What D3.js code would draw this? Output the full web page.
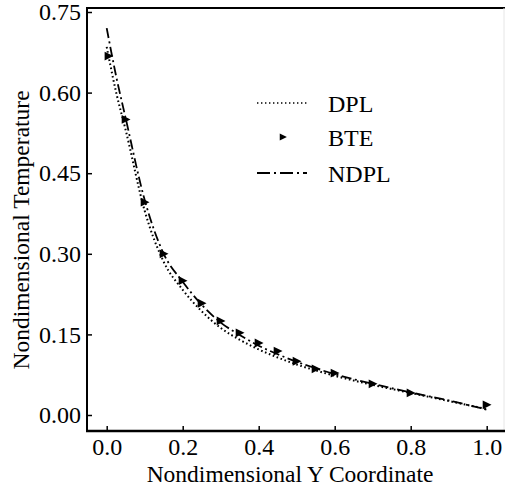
<!DOCTYPE html>
<html>
<head>
<meta charset="utf-8">
<script src="https://cdn.jsdelivr.net/npm/d3@7/dist/d3.min.js"></script>
<style>
html,body{margin:0;padding:0;background:#fff;}
svg{display:block;}
text{font-family:"Liberation Serif","DejaVu Serif",serif;fill:#000;}
</style>
</head>
<body>
<svg id="chart" width="505" height="490"></svg>
<script>
// Data
const xTicks = [0.0, 0.2, 0.4, 0.6, 0.8, 1.0];
const yTicks = [0.00, 0.15, 0.30, 0.45, 0.60, 0.75];

const lineX  = [0, 0.025, 0.05, 0.1, 0.15, 0.2, 0.25, 0.3, 0.35, 0.4, 0.45, 0.5, 0.55, 0.6, 0.7, 0.8, 0.9, 1.0];
const dplY   = [0.685, 0.60, 0.530, 0.380, 0.285, 0.233, 0.193, 0.162, 0.140, 0.122, 0.107, 0.094, 0.083, 0.073, 0.056, 0.041, 0.026, 0.011];
const ndplY  = [0.720, 0.630, 0.552, 0.400, 0.300, 0.248, 0.205, 0.172, 0.149, 0.129, 0.113, 0.099, 0.087, 0.076, 0.058, 0.042, 0.027, 0.010];

const bteX = [0.005, 0.05, 0.1, 0.15, 0.2, 0.25, 0.3, 0.35, 0.4, 0.45, 0.5, 0.55, 0.6, 0.7, 0.8, 1.0];
const bteY = [0.668, 0.550, 0.396, 0.300, 0.250, 0.208, 0.175, 0.153, 0.134, 0.119, 0.100, 0.086, 0.078, 0.058, 0.041, 0.019];

const legendItems = ["DPL", "BTE", "NDPL"];

const svg = d3.select("#chart");
const pLeft = 87, pRight = 505, pTop = 8, pBottom = 431;

const x = d3.scaleLinear().domain([0, 1]).range([106.7, 486.7]);
const y = d3.scaleLinear().domain([0, 0.75]).range([415, 12]);

// Frame
svg.append("line").attr("x1", pLeft).attr("x2", pRight).attr("y1", pTop).attr("y2", pTop)
  .attr("stroke", "#000").attr("stroke-width", 2);
svg.append("line").attr("x1", 504).attr("x2", 504).attr("y1", pTop).attr("y2", pBottom)
  .attr("stroke", "#e6e6e6").attr("stroke-width", 1);

// Axes
const xAxis = d3.axisBottom(x).tickValues(xTicks).tickSizeInner(-5).tickSizeOuter(0)
  .tickPadding(7).tickFormat(d3.format(".1f"));
const gx = svg.append("g").attr("transform", `translate(0,${pBottom})`).call(xAxis);
gx.select(".domain").remove();
gx.append("line").attr("x1", pLeft - 1).attr("x2", pRight).attr("y1", 0).attr("y2", 0)
  .attr("stroke", "#000").attr("stroke-width", 2.5);
gx.selectAll(".tick line").attr("stroke-width", 1.5);
gx.selectAll(".tick text").attr("font-size", 24).attr("font-family", "Liberation Serif").attr("dy", "0.71em");

const yAxis = d3.axisLeft(y).tickValues(yTicks).tickSizeInner(-5).tickSizeOuter(0)
  .tickPadding(6).tickFormat(d3.format(".2f"));
const gy = svg.append("g").attr("transform", `translate(${pLeft},0)`).call(yAxis);
gy.select(".domain").remove();
gy.append("line").attr("x1", 0).attr("x2", 0).attr("y1", pTop - 1).attr("y2", pBottom)
  .attr("stroke", "#000").attr("stroke-width", 2);
gy.selectAll(".tick line").attr("stroke-width", 1.5);
gy.selectAll(".tick text").attr("font-size", 24).attr("font-family", "Liberation Serif");

// Axis titles
svg.append("text").attr("x", 290).attr("y", 482).attr("text-anchor", "middle")
  .attr("font-size", 23.5).text("Nondimensional Y Coordinate");
svg.append("text").attr("transform", "translate(29,230) rotate(-90)").attr("text-anchor", "middle")
  .attr("font-size", 23.5).text("Nondimensional Temperature");

// Lines
const line = d3.line().curve(d3.curveMonotoneX);
const dplPts = lineX.map((v, i) => [x(v), y(dplY[i])]);
const ndplPts = lineX.map((v, i) => [x(v), y(ndplY[i])]);

svg.append("path").attr("d", line(dplPts)).attr("fill", "none").attr("stroke", "#000")
  .attr("stroke-width", 2).attr("stroke-dasharray", "1.6,2.6");
svg.append("path").attr("d", line(ndplPts)).attr("fill", "none").attr("stroke", "#000")
  .attr("stroke-width", 1.8).attr("stroke-dasharray", "10,3.5,2,3.5");

// BTE markers (right-pointing triangles)
const tri = (cx, cy, s) => `M${cx - s * 0.5},${cy - s * 0.55}L${cx + s * 0.6},${cy}L${cx - s * 0.5},${cy + s * 0.55}Z`;
svg.append("g").selectAll("path").data(bteX).join("path")
  .attr("d", (d, i) => tri(x(d), y(bteY[i]), 8)).attr("fill", "#000");

// Legend
const lg = svg.append("g");
const lx1 = 257, lx2 = 307, ly = [103, 137, 173];
lg.append("line").attr("x1", lx1).attr("x2", lx2).attr("y1", ly[0]).attr("y2", ly[0])
  .attr("stroke", "#000").attr("stroke-width", 1.6).attr("stroke-dasharray", "1.4,2.6");
lg.append("path").attr("d", tri(283, ly[1], 6.5)).attr("fill", "#000");
lg.append("line").attr("x1", lx1).attr("x2", lx2).attr("y1", ly[2]).attr("y2", ly[2])
  .attr("stroke", "#000").attr("stroke-width", 1.8).attr("stroke-dasharray", "13,4,2,4");
lg.selectAll("text").data(legendItems).join("text")
  .attr("x", 328).attr("y", (d, i) => ly[i] + 9).attr("font-size", 24).text(d => d);
</script>
</body>
</html>
